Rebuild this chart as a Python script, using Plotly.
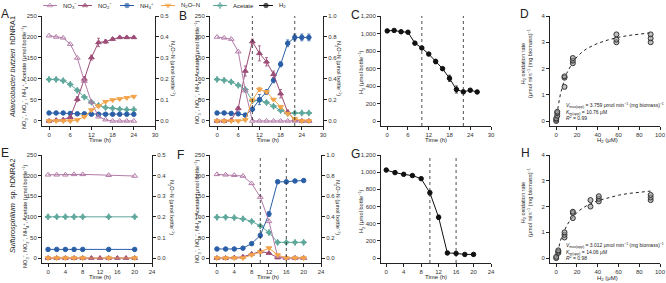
import plotly.graph_objects as go

W, H = 666, 283

# ---------------- data ----------------
# Panel A (Aliarcobacter butzleri, nitrate + acetate)
tA = [0, 2, 4, 6, 8, 10, 12, 14, 16, 18, 20, 22, 24]
A_no3 = [203, 200, 198, 183, 150, 95, 45, 10, 3, 0, 0, 0, 0]
A_no2 = [0, 2, 3, 9, 52, 100, 151, 187, 189, 195, 199, 199, 199]
A_nh4 = [19, 19, 19, 18, 17, 17, 16, 16, 16, 16, 16, 16, 16]
A_n2o = [0, 0, 0, 0, 0.005, 0.02, 0.052, 0.071, 0.092, 0.1, 0.105, 0.11, 0.116]
A_ace = [99, 99, 96, 87, 73, 57, 45, 37, 32, 30, 28, 27, 27]
A_no2_err = [0, 0, 0, 0, 6, 6, 6, 10, 4, 3, 2, 2, 2]

# Panel B (A. butzleri, nitrate + acetate + H2)
tB = [0, 2, 4, 6, 8, 10, 12, 14, 16, 18, 20, 22, 24, 26]
B_no3 = [200, 198, 195, 165, 72, 0, 0, 0, 0, 0, 0, 0, 0, 0]
B_no2 = [0, 0, 2, 30, 119, 189, 161, 141, 111, 65, 21, 3, 0, 0]
B_nh4 = [19, 19, 18, 17, 14, 28, 51, 69, 97, 135, 185, 199, 199, 199]
B_n2o = [0, 0, 0, 0, 0.01, 0.197, 0.3, 0.277, 0.204, 0.134, 0.07, 0.02, 0, 0]
B_ace = [99, 97, 93, 85, 75, 48, 49, 44, 35, 25, 18, 19, 19, 19]
B_no2_err = [0, 0, 0, 4, 12, 6, 18, 10, 8, 10, 5, 2, 0, 0]
B_nh4_err = [3, 3, 3, 3, 3, 3, 12, 6, 6, 6, 8, 8, 8, 8]
B_n2o_err = [0, 0, 0, 0, 0, 0.01, 0.02, 0.01, 0.01, 0.01, 0.01, 0, 0, 0]

# Panel C (H2, A. butzleri)
tC = [0, 2, 4, 6, 8, 10, 12, 14, 16, 18, 20, 22, 24, 26]
C_h2 = [1030, 1035, 1020, 1015, 890, 835, 765, 680, 598, 488, 360, 333, 352, 332]
C_h2_err = [10, 10, 10, 10, 15, 15, 15, 25, 15, 35, 40, 15, 10, 10]
phaseB = [10, 22]

# Panel D (kinetics, A. butzleri)
D_s = [0, 0, 0, 1, 1, 1, 8, 8, 8, 16, 16, 16, 58, 58, 58, 91, 91, 91]
D_v = [0.0, 0.05, 0.1, 0.2, 0.3, 0.35, 1.3, 1.65, 1.7, 2.2, 2.3, 2.4,
       3.0, 3.1, 3.3, 3.0, 3.15, 3.3]
D_fit_s = [0, 1, 2, 4, 6, 8, 10, 13, 16, 20, 25, 30, 40, 50, 60, 70, 80, 91]
D_fit_v = [0, 0.32, 0.59, 1.02, 1.35, 1.60, 1.81, 2.06, 2.25, 2.44, 2.63,
           2.77, 2.96, 3.09, 3.19, 3.26, 3.31, 3.36]

# Panel E (Sulfurospirillum, no electron donor control)
tE = [0, 2, 4, 6, 8, 14, 20]
tE_no2 = [0, 2, 4, 6, 8, 10, 12, 14, 16, 18, 20]
E_no3 = [202, 202, 202, 203, 203, 201, 199]
E_no2 = [0, 0, 0, 0, 0, 0, 0, 0, 0, 0, 0]
E_nh4 = [21, 21, 21, 21, 21, 21, 21]
E_n2o = [0, 0, 0, 0, 0, 0, 0]
E_ace = [100, 100, 100, 100, 100, 100, 100]

# Panel F (Sulfurospirillum with H2)
tF = [0, 2, 4, 6, 8, 10, 12, 14, 16, 18, 20]
F_no3 = [203, 202, 201, 199, 181, 148, 89, 4, 0, 0, 0]
F_no2 = [0, 0, 1, 3, 10, 16, 12, 1, 0, 0, 0]
F_nh4 = [22, 22, 22, 24, 35, 55, 107, 185, 185, 187, 188]
F_n2o = [0, 0, 0, 0, 0.03, 0.058, 0.097, 0.03, 0, 0, 0]
F_ace = [99, 99, 98, 95, 89, 78, 62, 38, 38, 38, 38]
F_nh4_err = [2, 2, 2, 2, 3, 3, 6, 4, 3, 3, 3]

# Panel G (H2, Sulfurospirillum)
tG = [0, 2, 4, 6, 8, 10, 12, 14, 16, 18, 20]
G_h2 = [1025, 995, 975, 960, 925, 760, 475, 60, 55, 43, 43]
G_h2_err = [10, 10, 10, 10, 10, 25, 25, 10, 5, 5, 5]
phaseF = [10, 16]

# Panel H (kinetics, Sulfurospirillum)
H_s = [0, 0, 2, 2, 2, 8, 8, 8, 16, 16, 16, 33, 33, 41, 41, 41, 91, 91, 91]
H_v = [0.0, 0.05, 0.2, 0.25, 0.3, 0.8, 0.9, 1.0, 1.55, 1.75, 1.8, 2.0, 2.25,
       2.2, 2.3, 2.4, 2.25, 2.35, 2.45]
H_fit_s = [0, 1, 2, 4, 6, 8, 10, 13, 16, 20, 25, 30, 40, 50, 60, 70, 80, 91]
H_fit_v = [0, 0.20, 0.38, 0.67, 0.90, 1.09, 1.25, 1.45, 1.60, 1.77, 1.93,
           2.05, 2.23, 2.35, 2.44, 2.51, 2.56, 2.60]

# series labels
lbl_no3 = "NO<sub>3</sub><sup>−</sup>"
lbl_no2 = "NO<sub>2</sub><sup>−</sup>"
lbl_nh4 = "NH<sub>4</sub><sup>+</sup>"
lbl_n2o = "N<sub>2</sub>O−N"
lbl_ace = "Acetate"
lbl_h2 = "H<sub>2</sub>"

# ---------------- styling ----------------
FONT = "Arial, Liberation Sans, sans-serif"
C_NO3 = "#b47ca8"
C_NO2 = "#9c4c76"
C_NH4 = "#2a5fa8"
C_N2O = "#f3a44a"
C_ACE = "#5ea79b"
C_H2 = "#111111"
TICKF = dict(size=6, color="#333", family=FONT)
SYM = {"no3": "triangle-up-open", "no2": "triangle-up", "nh4": "circle",
       "n2o": "triangle-down", "ace": "star-diamond", "h2": "circle"}
MSIZE = {"no3": 5, "no2": 5, "nh4": 4.5, "n2o": 5, "ace": 4.5, "h2": 4.5}


def px(v):
    return v / W


def py(v):
    return 1 - v / H


fig = go.Figure()
layout = dict(width=W, height=H,
              margin=dict(l=0, r=0, t=0, b=0, pad=0, autoexpand=False),
              paper_bgcolor="white", plot_bgcolor="rgba(0,0,0,0)",
              font=dict(family=FONT, size=7, color="#222"),
              showlegend=False)

ROW1 = (16, 126)
ROW2 = (155, 263)
panels = {
    1: dict(x=(42, 155), y=ROW1, xr=[-2, 30], xt=[0, 6, 12, 18, 24, 30],
            yr=[-12, 250], yt=[0, 50, 100, 150, 200, 250], yf=None,
            right=dict(r=[-0.024, 0.5], t=[0, 0.1, 0.2, 0.3, 0.4, 0.5])),
    2: dict(x=(210, 323), y=ROW1, xr=[-2, 30], xt=[0, 6, 12, 18, 24, 30],
            yr=[-12, 250], yt=[0, 50, 100, 150, 200, 250], yf=None,
            right=dict(r=[-0.048, 1.0], t=[0, 0.2, 0.4, 0.6, 0.8, 1.0])),
    3: dict(x=(381, 491), y=ROW1, xr=[-1.8, 30], xt=[0, 6, 12, 18, 24, 30],
            yr=[-57, 1200], yt=[0, 200, 400, 600, 800, 1000, 1200], yf=",",
            right=None),
    4: dict(x=(550, 660), y=ROW1, xr=[-6, 100], xt=[0, 20, 40, 60, 80, 100],
            yr=[-0.19, 4], yt=[0, 1, 2, 3, 4], yf=None, right=None),
    5: dict(x=(42, 152), y=ROW2, xr=[-1.4, 24], xt=[0, 4, 8, 12, 16, 20, 24],
            yr=[-12, 250], yt=[0, 50, 100, 150, 200, 250], yf=None,
            right=dict(r=[-0.024, 0.5], t=[0, 0.1, 0.2, 0.3, 0.4, 0.5])),
    6: dict(x=(210, 321), y=ROW2, xr=[-1.6, 24], xt=[0, 4, 8, 12, 16, 20, 24],
            yr=[-12, 250], yt=[0, 50, 100, 150, 200, 250], yf=None,
            right=dict(r=[-0.048, 1.0], t=[0, 0.2, 0.4, 0.6, 0.8, 1.0])),
    7: dict(x=(381, 491), y=ROW2, xr=[-1.2, 24], xt=[0, 4, 8, 12, 16, 20, 24],
            yr=[-57, 1200], yt=[0, 200, 400, 600, 800, 1000, 1200], yf=",",
            right=None),
    8: dict(x=(550, 660), y=ROW2, xr=[-6, 100], xt=[0, 20, 40, 60, 80, 100],
            yr=[-0.19, 4], yt=[0, 1, 2, 3, 4], yf=None, right=None),
}

axbase = dict(showline=True, linecolor="#222", linewidth=1, ticks="outside",
              ticklen=3, tickwidth=1, tickcolor="#222", showgrid=False,
              zeroline=False, tickfont=TICKF, fixedrange=True,
              automargin=False)

right_ids = {}
next_right = 9
for k, p in panels.items():
    xs = "" if k == 1 else str(k)
    layout["xaxis" + xs] = dict(axbase, domain=[px(p["x"][0]), px(p["x"][1])],
                                range=p["xr"], tickvals=p["xt"],
                                anchor="y" + xs)
    ya = dict(axbase, domain=[py(p["y"][1]), py(p["y"][0])], range=p["yr"],
              tickvals=p["yt"], anchor="x" + xs)
    if p["yf"]:
        ya["tickformat"] = p["yf"]
    layout["yaxis" + xs] = ya
    if p["right"]:
        rid = next_right
        next_right += 1
        right_ids[k] = rid
        layout["yaxis" + str(rid)] = dict(
            axbase, overlaying="y" + xs, side="right", anchor="x" + xs,
            range=p["right"]["r"], tickvals=p["right"]["t"], tickformat=".1f")

# legend strip axis (pixel-like scale across the top)
LEG_X = "x20"
LEG_Y = "y20"
layout["xaxis20"] = dict(domain=[0, 1], range=[0, W], visible=False,
                         fixedrange=True, anchor="y20")
layout["yaxis20"] = dict(domain=[py(11), 1], range=[0, 1], visible=False,
                         fixedrange=True, anchor="x20")


def axn(k):
    return ("x" if k == 1 else "x" + str(k)), ("y" if k == 1 else "y" + str(k))


def add_series(k, x, y, color, key, name, err=None, right=False):
    xa, ya = axn(k)
    if right:
        ya = "y" + str(right_ids[k])
    tr = go.Scatter(x=x, y=y, mode="lines+markers", name=name,
                    xaxis=xa, yaxis=ya, showlegend=False,
                    line=dict(color=color, width=1),
                    marker=dict(symbol=SYM[key], size=MSIZE[key], color=color,
                                line=dict(color=color, width=1)),
                    cliponaxis=False)
    if err is not None:
        tr.error_y = dict(type="data", array=err, color=color,
                          thickness=0.8, width=1.5)
    fig.add_trace(tr)


# A
add_series(1, tA, A_ace, C_ACE, "ace", lbl_ace)
add_series(1, tA, A_nh4, C_NH4, "nh4", lbl_nh4)
add_series(1, tA, A_n2o, C_N2O, "n2o", lbl_n2o, right=True)
add_series(1, tA, A_no2, C_NO2, "no2", lbl_no2, err=A_no2_err)
add_series(1, tA, A_no3, C_NO3, "no3", lbl_no3)
# B
add_series(2, tB, B_ace, C_ACE, "ace", lbl_ace)
add_series(2, tB, B_n2o, C_N2O, "n2o", lbl_n2o, err=B_n2o_err, right=True)
add_series(2, tB, B_nh4, C_NH4, "nh4", lbl_nh4, err=B_nh4_err)
add_series(2, tB, B_no2, C_NO2, "no2", lbl_no2, err=B_no2_err)
add_series(2, tB, B_no3, C_NO3, "no3", lbl_no3)
# C
add_series(3, tC, C_h2, C_H2, "h2", lbl_h2, err=C_h2_err)
# E
add_series(5, tE, E_n2o, C_N2O, "n2o", lbl_n2o, right=True)
add_series(5, tE, E_ace, C_ACE, "ace", lbl_ace)
add_series(5, tE, E_nh4, C_NH4, "nh4", lbl_nh4)
add_series(5, tE_no2, E_no2, C_NO2, "no2", lbl_no2)
add_series(5, tE, E_no3, C_NO3, "no3", lbl_no3)
# F
add_series(6, tF, F_ace, C_ACE, "ace", lbl_ace)
add_series(6, tF, F_nh4, C_NH4, "nh4", lbl_nh4, err=F_nh4_err)
add_series(6, tF, F_n2o, C_N2O, "n2o", lbl_n2o, right=True)
add_series(6, tF, F_no2, C_NO2, "no2", lbl_no2)
add_series(6, tF, F_no3, C_NO3, "no3", lbl_no3)
# G
add_series(7, tG, G_h2, C_H2, "h2", lbl_h2, err=G_h2_err)


# D / H kinetics
def add_kin(k, s, v, fs, fv):
    xa, ya = axn(k)
    fig.add_trace(go.Scatter(x=fs, y=fv, mode="lines", xaxis=xa, yaxis=ya,
                             showlegend=False,
                             line=dict(color="#222", width=1, dash="dot")))
    fig.add_trace(go.Scatter(x=s, y=v, mode="markers", xaxis=xa, yaxis=ya,
                             showlegend=False, cliponaxis=False,
                             marker=dict(symbol="circle", size=5,
                                         color="rgba(150,150,150,0.6)",
                                         line=dict(color="#333", width=1))))


add_kin(4, D_s, D_v, D_fit_s, D_fit_v)
add_kin(8, H_s, H_v, H_fit_s, H_fit_v)

# custom compact legend (key positions on the legend strip)
legend_items = [(lbl_no3, C_NO3, "no3"), (lbl_no2, C_NO2, "no2"),
                (lbl_nh4, C_NH4, "nh4"), (lbl_n2o, C_N2O, "n2o"),
                (lbl_ace, C_ACE, "ace"), (lbl_h2, C_H2, "h2")]
legend_key_x = [50, 85, 127, 168, 220, 266]
KEY_HALF = 7
ann = []
for (name, col, key), kx in zip(legend_items, legend_key_x):
    fig.add_trace(go.Scatter(x=[kx - KEY_HALF, kx, kx + KEY_HALF],
                             y=[0.5, 0.5, 0.5], mode="lines+markers",
                             xaxis=LEG_X, yaxis=LEG_Y, showlegend=False,
                             line=dict(color=col, width=1),
                             marker=dict(symbol=SYM[key],
                                         size=[0, MSIZE[key], 0], color=col,
                                         line=dict(color=col, width=1)),
                             cliponaxis=False, hoverinfo="skip"))
    ann.append(dict(x=kx + KEY_HALF + 4, y=0.5, xref=LEG_X, yref=LEG_Y,
                    text=name, showarrow=False, xanchor="left",
                    font=dict(size=6, family=FONT, color="#222")))

# phase lines
shapes = []
for k, ph in ((2, phaseB), (3, phaseB), (6, phaseF), (7, phaseF)):
    xa, ya = axn(k)
    for xv in ph:
        shapes.append(dict(type="line", xref=xa, yref=ya + " domain",
                           x0=xv, x1=xv, y0=0, y1=1,
                           line=dict(color="#222", width=0.8, dash="dot")))
layout["shapes"] = shapes


def text(x, y, t, size=6.5, angle=0, xanchor="center", yanchor="middle",
         align="center"):
    ann.append(dict(x=px(x), y=py(y), xref="paper", yref="paper", text=t,
                    showarrow=False, textangle=angle, xanchor=xanchor,
                    yanchor=yanchor, align=align,
                    font=dict(size=size, family=FONT, color="#222")))


for (lx, ly, L) in ((5, 14, "A"), (183, 16, "B"), (355, 15, "C"), (524, 14, "D"),
                    (5, 153, "E"), (180, 155, "F"), (355, 154, "G"), (525, 153, "H")):
    text(lx, ly, L, size=12)

ytitle_mix = ("NO<sub>3</sub><sup>−</sup>, NO<sub>2</sub><sup>−</sup>, "
              "NH<sub>4</sub><sup>+</sup>, Acetate (μmol bottle<sup>−1</sup>)")
rtitle = "N<sub>2</sub>O−N (μmol bottle<sup>−1</sup>)"
h2title = "H<sub>2</sub> (μmol bottle<sup>−1</sup>)"
kintitle = ("H<sub>2</sub> oxidation rate<br>"
            "(μmol min<sup>−1</sup> (mg biomass)<sup>−1</sup>")

for dy in (0, 139):
    text(25, 77 + dy, ytitle_mix, size=5.6, angle=-90)
    text(172, 68 + dy, rtitle, size=5.6, angle=90)
    text(197, 72 + dy, ytitle_mix, size=5.6, angle=-90)
    text(338, 68 + dy, rtitle, size=5.6, angle=90)
    text(361, 72 + dy, h2title, size=5.6, angle=-90)
    text(526, 64 + dy, kintitle, size=5.6, angle=-90)

text(12, 67, "<i>Aliarcobacter butzleri</i>  hDNRA1", size=7.3, angle=-90)
text(12, 206, "<i>Sulfurospirillum</i>  sp. hDNRA2", size=7.3, angle=-90)

for y in (139.5, 277):
    text(100, y, "Time (h)", size=6)
    text(268, y, "Time (h)", size=6)
    text(436, y, "Time (h)", size=6)
    text(607, y + 1, "H<sub>2</sub> (μM)", size=6)

kinD = ("<i>V</i><sub>max(app)</sub> = 3.759 μmol min<sup>−1</sup> (mg biomass)<sup>−1</sup><br>"
        "<i>K</i><sub>m(app)</sub> = 10.76 μM<br><i>R</i><sup>2</sup> = 0.99")
kinH = ("<i>V</i><sub>max(app)</sub> = 3.012 μmol min<sup>−1</sup> (mg biomass)<sup>−1</sup><br>"
        "<i>K</i><sub>m(app)</sub> = 14.06 μM<br><i>R</i><sup>2</sup> = 0.98")
text(564, 112, kinD, size=5, xanchor="left", align="left")
text(564, 251, kinH, size=5, xanchor="left", align="left")

layout["annotations"] = ann

fig.update_layout(**layout)
fig.write_html("out.html", config={"displayModeBar": False, "staticPlot": True},
               post_script="document.documentElement.style.margin='0';"
                           "document.body.style.margin='0';"
                           "document.body.style.padding='0';")
